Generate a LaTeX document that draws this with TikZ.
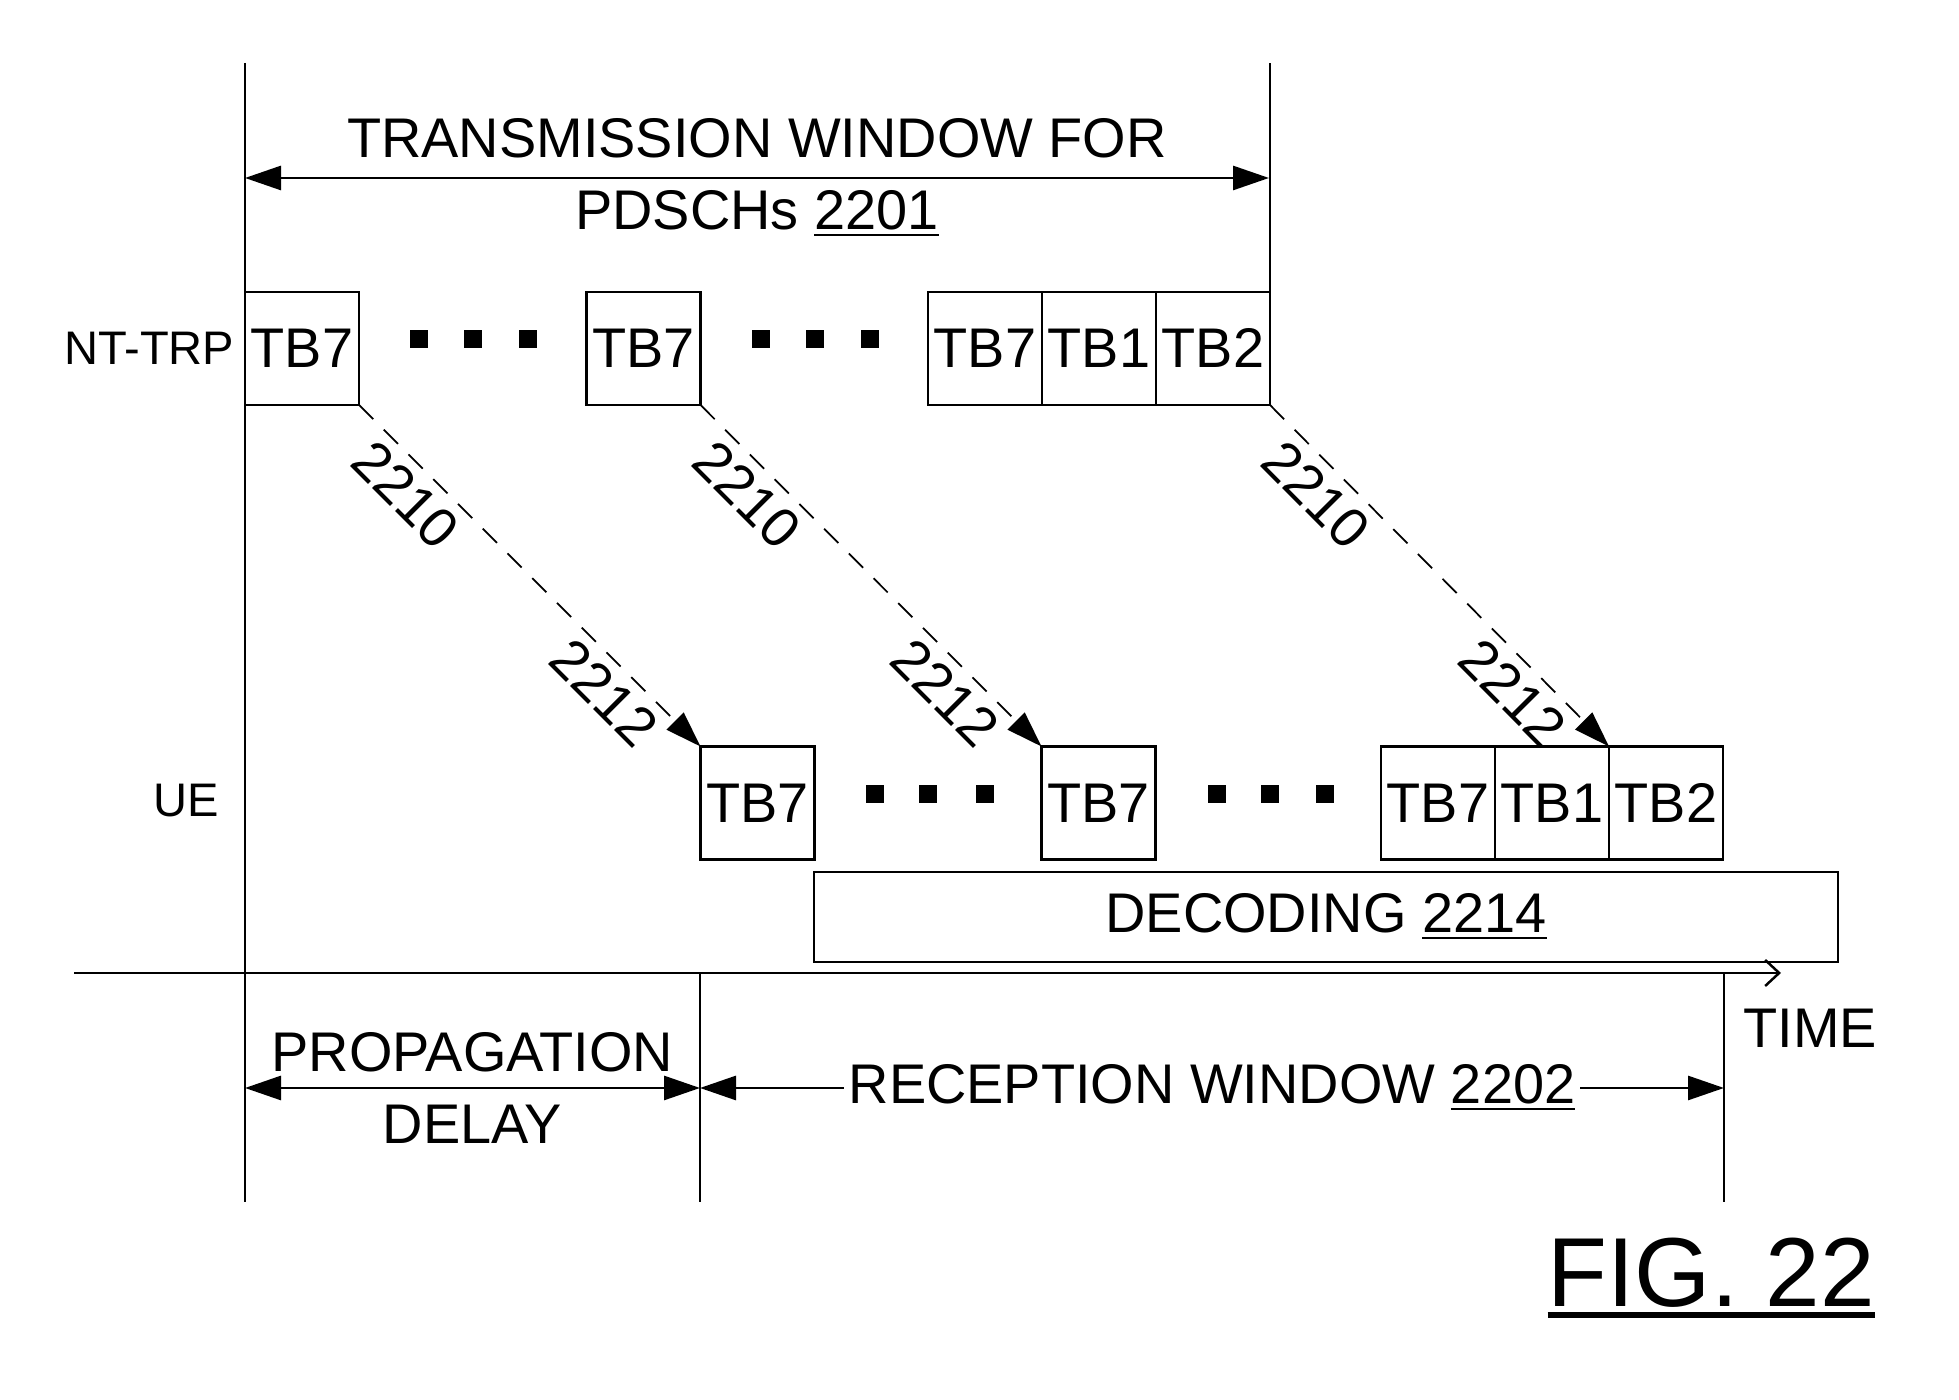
\documentclass[tikz,border=0pt]{standalone}
\usepackage{fontspec}
\setmainfont{Liberation Sans}
\usepackage{tikz}
\usetikzlibrary{positioning,arrows.meta}
\tikzset{>={Triangle[length=0.36cm,width=0.24cm]}}
\newcommand{\bigtxt}{\fontsize{15.9pt}{20.5pt}\selectfont}
\newcommand{\smalltxt}{\fontsize{13.4pt}{16pt}\selectfont}
\newcommand{\refno}[1]{\underline{#1}}
\newcommand{\figno}[1]{\setbox0\hbox{#1}\rlap{\usebox0}\rule[-0.11cm]{\wd0}{0.06cm}}

\begin{document}
\begin{tikzpicture}[
  tb/.style={draw, line width=0.7pt, minimum width=1.14cm, minimum height=1.13cm, inner sep=0pt, outer sep=0pt, font=\bigtxt},
  lbl/.style={inner sep=0pt, font=\smalltxt},
  txt/.style={inner sep=0pt, font=\bigtxt, align=center},
  sig/.style={line width=0.5pt, dash pattern=on 0.2cm off 0.15cm, ->},
  num/.style={sloped, below=0.1cm, inner sep=0pt, font=\bigtxt},
  dim/.style={line width=0.8pt, <->}
  ]
  \useasboundingbox (0,0) rectangle (19.59,14);

  % NT-TRP row
  \node[tb] at (3.02,10.515) (nt1) {TB7};
  \node[tb] at (6.435,10.515) (nt2) {TB7};
  \node[tb] at (9.85,10.515) (nt3) {TB7};
  \node[tb, right=0pt of nt3] (nt4) {TB1};
  \node[tb, right=0pt of nt4] (nt5) {TB2};
  \node[lbl, left=0.1cm of nt1] (ntlbl) {NT-TRP};

  % UE row
  \node[tb] at (7.575,5.97) (ue1) {TB7};
  \node[tb] at (10.985,5.97) (ue2) {TB7};
  \node[tb] at (14.38,5.97) (ue3) {TB7};
  \node[tb, right=0pt of ue3] (ue4) {TB1};
  \node[tb, right=0pt of ue4] (ue5) {TB2};
  \node[lbl, anchor=east] at (2.20,5.99) (uelbl) {UE};

  \foreach \x in {4.19,4.73,5.28,7.61,8.15,8.70}
    \fill (\x-0.09,10.52) rectangle ++(0.18,0.18);
  \foreach \x in {8.75,9.28,9.845,12.17,12.70,13.25}
    \fill (\x-0.09,5.97) rectangle ++(0.18,0.18);

  \node[draw, line width=0.7pt, minimum width=10.24cm, minimum height=0.9cm, font=\bigtxt] at (13.26,4.83) (dec) {DECODING \refno{2214}};

  % time lines
  \draw[line width=0.7pt] (2.45,13.37) -- (2.45,1.98);
  \draw[line width=0.7pt] (nt5.north east) -- ++(0,2.29);
  \draw[line width=0.7pt] (7.00,4.27) -- (7.00,1.98);
  \draw[line width=0.7pt] (17.24,4.27) -- (17.24,1.98);

  \coordinate (t0) at (0.74,4.27);
  \coordinate (t1) at (17.81,4.27);
  \draw[line width=0.7pt, -{Straight Barb[length=0.14cm,width=0.26cm]}] (t0) -- (t1);
  \node[anchor=west, txt] at (17.43,3.72) (timelbl) {TIME};

  \draw[sig] (nt1.south east) -- node[num, pos=0.2] {2210} node[num, pos=0.78] {2212} (ue1.north west);
  \draw[sig] (nt2.south east) -- node[num, pos=0.2] {2210} node[num, pos=0.78] {2212} (ue2.north west);
  \draw[sig] (nt5.south east) -- node[num, pos=0.2] {2210} node[num, pos=0.78] {2212} (ue5.north west);

  \draw[dim] (2.45,12.22) -- node[txt] (txwin) {TRANSMISSION WINDOW FOR\\PDSCHs \refno{2201}} (12.69,12.22);
  \draw[dim] (2.45,3.12) -- node[txt] (prop) {PROPAGATION\\DELAY} (7.00,3.12);
  \draw[dim] (7.00,3.12) -- node[txt, fill=white, inner xsep=0.05cm] (rxwin) {RECEPTION WINDOW \refno{2202}} (17.24,3.12);

  \node[anchor=base west, inner sep=0pt, font=\fontsize{27.9pt}{32pt}\selectfont] at (15.47,0.93) (fig) {\figno{FIG. 22}};

\end{tikzpicture}
\end{document}
